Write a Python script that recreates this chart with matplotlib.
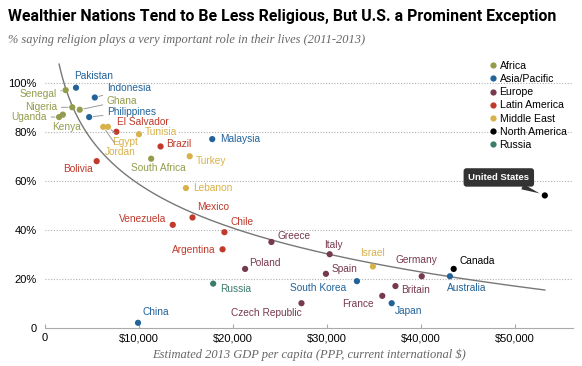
import numpy as np
import matplotlib
matplotlib.use("Agg")
import matplotlib.pyplot as plt
from matplotlib.lines import Line2D

# GDP per capita (thousands $, PPP) and % saying religion very important
countries = ["Pakistan", "Indonesia", "Senegal", "Nigeria", "Ghana", "Philippines",
             "Uganda", "Kenya", "Egypt", "Jordan", "El Salvador", "Tunisia", "Brazil",
             "Bolivia", "South Africa", "Turkey", "Malaysia", "Lebanon", "Mexico",
             "Venezuela", "Chile", "Argentina", "Greece", "Poland", "Russia", "China",
             "Czech Republic", "Italy", "Israel", "Spain", "South Korea", "Germany",
             "Canada", "Australia", "Britain", "France", "Japan", "United States"]
regions = ["Asia/Pacific", "Asia/Pacific", "Africa", "Africa", "Africa", "Asia/Pacific",
           "Africa", "Africa", "Middle East", "Middle East", "Latin America", "Middle East",
           "Latin America", "Latin America", "Africa", "Middle East", "Asia/Pacific",
           "Middle East", "Latin America", "Latin America", "Latin America", "Latin America",
           "Europe", "Europe", "Russia", "Asia/Pacific", "Europe", "Europe", "Middle East",
           "Europe", "Asia/Pacific", "Europe", "North America", "Asia/Pacific", "Europe",
           "Europe", "Asia/Pacific", "North America"]
gdp = [3.3, 5.3, 2.2, 2.9, 3.7, 4.7, 1.5, 1.9, 6.7, 6.2, 7.6, 10.0, 12.3,
       5.5, 11.3, 15.4, 17.8, 15.0, 15.7, 13.6, 19.1, 18.9, 24.1, 21.3, 17.9, 9.9,
       27.3, 30.3, 34.9, 29.9, 33.2, 40.1, 43.5, 43.1, 37.3, 35.9, 36.9, 53.2]
religious = [98, 94, 97, 90, 89, 86, 86, 87, 82, 82, 80, 79, 74,
             68, 69, 70, 77, 57, 45, 42, 39, 32, 35, 24, 18, 2,
             10, 30, 25, 22, 19, 21, 24, 21, 17, 13, 10, 54]

region_names = ["Africa", "Asia/Pacific", "Europe", "Latin America",
                "Middle East", "North America", "Russia"]
region_colors = {"Africa": "#949c4c", "Asia/Pacific": "#22639a", "Europe": "#77394f",
                 "Latin America": "#c0392b", "Middle East": "#d8b14a",
                 "North America": "#000000", "Russia": "#3c7c6c"}

# label placement: offset in pixels, horizontal alignment, leader line
label_pos = {
    "Pakistan": (-2, 12, "left", False), "Indonesia": (12, 9, "left", True),
    "Senegal": (-9, -4, "right", True), "Nigeria": (-15, 0, "right", True),
    "Ghana": (27, 9, "left", True), "Philippines": (18, 5, "left", True),
    "Uganda": (-12, 0, "right", True), "Kenya": (4, -12, "center", True),
    "Egypt": (4, -15, "left", True), "Jordan": (2, -25, "left", True),
    "El Salvador": (1, 10, "left", False), "Tunisia": (6, 2, "left", False),
    "Brazil": (6, 2, "left", False), "Bolivia": (-4, -8, "right", False),
    "South Africa": (7, -9, "center", False), "Turkey": (6, -5, "left", False),
    "Malaysia": (8, 0, "left", False), "Lebanon": (7, 0, "left", False),
    "Mexico": (5, 10, "left", False), "Venezuela": (-6, 6, "right", False),
    "Chile": (6, 10, "left", False), "Argentina": (-7, -1, "right", False),
    "Greece": (6, 6, "left", False), "Poland": (4, 6, "left", False),
    "Russia": (7, -5, "left", False), "China": (4, 11, "left", False),
    "Czech Republic": (0, -10, "right", False), "Italy": (4, 9, "center", False),
    "Israel": (0, 13, "center", False), "Spain": (6, 5, "left", False),
    "South Korea": (-39, -7, "center", False), "Germany": (-5, 16, "center", False),
    "Canada": (6, 8, "left", False), "Australia": (17, -12, "center", False),
    "Britain": (6, -4, "left", False), "France": (-9, -8, "right", False),
    "Japan": (3, -8, "left", False),
}

plt.rcParams["font.family"] = ["Liberation Sans", "DejaVu Sans"]

fig = plt.figure(figsize=(5.82, 3.66), dpi=100)
ax = fig.add_axes([45 / 582, 1 - 327.7 / 366, 528 / 582, 267.7 / 366])

ax.set_xlim(0, 56.2)
ax.set_ylim(0, 109.3)

# grid
for yv in [20, 40, 60, 80, 100]:
    ax.axhline(yv, color="#b0b0b0", lw=0.8, ls=(0, (1, 1.5)), zorder=0)

# trend line (log fit of the data)
b, a = np.polyfit(np.log(gdp), religious, 1)
xs = np.linspace(min(gdp), max(gdp), 300)
ax.plot(xs, a + b * np.log(xs), color="#777777", lw=1, zorder=1)

colors = [region_colors[r] for r in regions]
ax.scatter(gdp, religious, s=20, c=colors, zorder=3, linewidths=0)

for name, x, y, reg in zip(countries, gdp, religious, regions):
    if name not in label_pos:
        continue
    dx, dy, ha, leader = label_pos[name]
    kw = {}
    if leader:
        kw["arrowprops"] = dict(arrowstyle="-", color="#999999", lw=0.7,
                                shrinkA=1, shrinkB=3)
    if name == "Tunisia":
        kw["bbox"] = dict(boxstyle="square,pad=0.1", fc="white", ec="none")
    ax.annotate(name, (x, y), xytext=(dx, dy), textcoords="offset pixels",
                ha=ha, va="center", fontsize=7.3, color=region_colors[reg],
                zorder=4, **kw)

# United States callout
ax.annotate("United States", (gdp[-1], religious[-1]), xytext=(-46, 18),
            textcoords="offset pixels", ha="center", va="center",
            fontsize=6.8, fontweight="bold", color="white", zorder=5,
            bbox=dict(boxstyle="round,pad=0.5,rounding_size=0.3", fc="#333333", ec="none"),
            arrowprops=dict(arrowstyle="wedge,tail_width=0.6,shrink_factor=0.5",
                            fc="#333333", ec="none", shrinkA=0, shrinkB=4))

# axes styling
for s in ["top", "right", "left"]:
    ax.spines[s].set_visible(False)
ax.spines["bottom"].set_color("#aaaaaa")
ax.spines["bottom"].set_linewidth(0.8)

ax.set_xticks([0, 10, 20, 30, 40, 50])
ax.set_xticklabels(["0", "$10,000", "$20,000", "$30,000", "$40,000", "$50,000"])
ax.set_yticks([0, 20, 40, 60, 80, 100])
ax.set_yticklabels(["0", "20%", "40%", "60%", "80%", "100%"])
ax.tick_params(axis="x", direction="in", length=3, color="#aaaaaa", labelsize=8, pad=4)
ax.tick_params(axis="y", length=0, labelsize=8, pad=6)

ax.set_xlabel("Estimated 2013 GDP per capita (PPP, current international $)",
              fontsize=9, fontstyle="italic", family=["Liberation Serif"],
              color="#666666", labelpad=4)

# legend
handles = [Line2D([], [], marker="o", ls="none", markersize=4.5,
                  markerfacecolor=region_colors[r], markeredgewidth=0) for r in region_names]
fig.legend(handles, region_names, loc="upper left", bbox_to_anchor=(489 / 582, 1 - 61 / 366),
           frameon=False, fontsize=7.6, handlelength=0.7, handletextpad=0.3,
           labelspacing=0.3, borderpad=0, borderaxespad=0)

fig.text(8 / 582, 1 - 16 / 366,
         "Wealthier Nations Tend to Be Less Religious, But U.S. a Prominent Exception",
         fontsize=11.45, fontweight="bold", va="center", ha="left",
         family=["Roboto", "Liberation Sans"])
fig.text(8 / 582, 1 - 40 / 366,
         "% saying religion plays a very important role in their lives (2011-2013)",
         fontsize=8.9, fontstyle="italic", family=["Liberation Serif"],
         color="#666666", va="center", ha="left")

fig.savefig("out.png", dpi=100)
